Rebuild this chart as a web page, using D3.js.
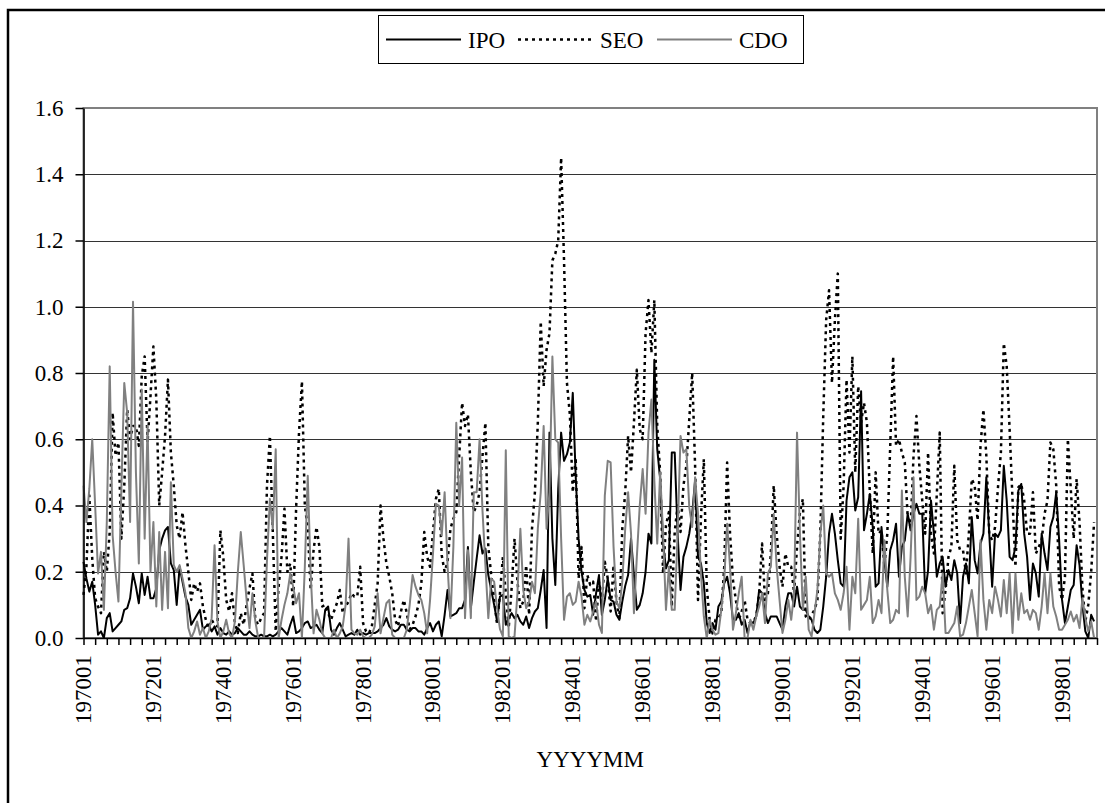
<!DOCTYPE html>
<html>
<head>
<meta charset="utf-8">
<style>
    body { margin: 0; background: #fff; }
    svg text { font-family: "Liberation Serif", "Times New Roman", serif; font-size: 23px; fill: #000; }
</style>
</head>
<body>
<div id="chart"></div>
<script src="https://cdn.jsdelivr.net/npm/d3@7/dist/d3.min.js"></script>
<script>

    // monthly values, one row per year, 1970 .. 1998
    var ipo = [
        .23,.18,.14,.17,.10,.01,.02,.00,.06,.075,.02,.03,
        .04,.05,.085,.09,.12,.195,.155,.105,.195,.13,.185,.12,
        .12,.15,.265,.30,.325,.335,.225,.205,.10,.215,.17,.125,
        .10,.04,.055,.07,.085,.025,.035,.04,.02,.035,.01,.03,
        .015,.01,.02,.01,.015,.03,.02,.01,.01,.02,.01,.005,
        .005,.01,.005,.005,.01,.005,.01,.02,.03,.02,.01,.04,
        .065,.015,.02,.03,.045,.05,.03,.035,.04,.025,.015,.085,
        .095,.025,.01,.03,.045,.025,.005,.01,.015,.01,.025,.01,
        .015,.01,.015,.015,.015,.02,.03,.04,.06,.035,.025,.02,
        .025,.04,.04,.025,.02,.03,.03,.02,.02,.01,.03,.045,
        .02,.04,.05,.005,.07,.145,.065,.07,.075,.09,.09,.115,
        .275,.09,.167,.24,.31,.255,.27,.19,.145,.10,.05,.125,
        .13,.04,.06,.075,.06,.07,.05,.04,.065,.03,.06,.08,
        .09,.145,.205,.03,.62,.30,.16,.45,.62,.535,.555,.59,
        .74,.49,.30,.20,.145,.125,.13,.07,.135,.19,.07,.115,
        .18,.115,.11,.07,.055,.11,.157,.19,.30,.19,.085,.10,
        .135,.20,.315,.285,.84,.57,.48,.285,.21,.235,.56,.56,
        .315,.145,.245,.275,.315,.375,.475,.245,.225,.165,.045,.015,
        .045,.025,.095,.11,.165,.185,.135,.055,.055,.075,.04,.055,
        .015,.05,.045,.065,.145,.135,.075,.045,.065,.065,.065,.045,
        .025,.095,.135,.135,.095,.155,.095,.085,.085,.065,.055,.025,
        .015,.025,.095,.185,.315,.375,.315,.235,.165,.155,.415,.485,
        .50,.385,.425,.745,.325,.375,.435,.335,.155,.165,.335,.235,
        .155,.265,.295,.345,.185,.275,.295,.375,.325,.375,.405,.375,
        .375,.135,.205,.415,.315,.185,.225,.245,.155,.205,.175,.235,
        .195,.045,.185,.225,.165,.365,.235,.195,.285,.315,.485,.315,
        .155,.315,.305,.325,.52,.415,.245,.235,.275,.445,.465,.315,
        .245,.115,.225,.195,.125,.315,.255,.205,.335,.365,.44,.295,
        .115,.045,.095,.145,.16,.28,.22,.10,.02,.00,.07,.05
    ];

    var seo = [
        .13,.215,.43,.24,.12,.095,.075,.26,.20,.32,.68,.55,
        .59,.30,.46,.69,.60,.64,.64,.58,.79,.85,.59,.73,
        .88,.72,.40,.50,.61,.78,.56,.46,.34,.30,.38,.28,
        .20,.115,.165,.14,.165,.095,.055,.03,.055,.04,.035,.325,
        .245,.115,.08,.135,.045,.015,.075,.04,.10,.15,.195,.055,
        .04,.06,.075,.46,.61,.32,.02,.155,.245,.39,.20,.225,
        .095,.39,.62,.775,.40,.33,.145,.265,.335,.275,.095,.10,
        .075,.055,.08,.105,.145,.075,.095,.11,.135,.125,.125,.215,
        .045,.02,.014,.035,.10,.165,.40,.30,.225,.185,.135,.055,
        .035,.08,.115,.075,.025,.04,.065,.10,.165,.32,.245,.215,
        .32,.42,.45,.25,.20,.23,.33,.36,.38,.55,.71,.64,
        .675,.50,.38,.40,.44,.55,.65,.275,.19,.12,.04,.135,
        .245,.135,.03,.15,.30,.17,.09,.11,.22,.07,.33,.44,
        .65,.955,.76,.87,.92,1.14,1.16,1.20,1.45,1.14,.77,.675,
        .44,.545,.18,.275,.09,.19,.16,.17,.05,.17,.11,.23,
        .18,.08,.22,.11,.06,.33,.44,.61,.50,.65,.81,.63,
        .60,.92,1.02,.86,1.02,.64,.50,.195,.34,.38,.095,.32,
        .40,.32,.46,.52,.66,.80,.52,.115,.36,.54,.155,.055,
        .014,.055,.06,.075,.215,.53,.315,.175,.115,.055,.08,.115,
        .055,.045,.05,.065,.135,.285,.115,.135,.255,.46,.315,.215,
        .155,.255,.215,.215,.135,.275,.38,.42,.065,.055,.07,.085,
        .115,.32,.67,.96,1.05,.77,.96,1.10,.30,.46,.78,.56,
        .85,.50,.76,.65,.71,.65,.44,.255,.50,.315,.325,.215,
        .315,.58,.85,.58,.60,.56,.53,.365,.335,.55,.67,.52,
        .415,.315,.56,.315,.255,.435,.62,.075,.145,.245,.275,.52,
        .295,.265,.265,.195,.315,.48,.46,.355,.58,.69,.55,.315,
        .295,.335,.455,.56,.89,.82,.63,.415,.215,.455,.465,.415,
        .315,.315,.44,.255,.275,.295,.375,.415,.59,.57,.46,.155,
        .115,.185,.60,.45,.30,.48,.35,.15,.05,.10,.20,.35
    ];

    var cdo = [
        .46,.35,.45,.60,.40,.195,.26,.085,.35,.82,.31,.20,
        .11,.45,.77,.68,.35,1.015,.50,.225,.75,.30,.64,.20,
        .35,.095,.32,.085,.26,.09,.47,.22,.20,.22,.18,.135,
        .03,.00,.02,.05,.01,.03,.00,.02,.06,.28,.05,.00,
        .02,.055,.014,.00,.05,.20,.32,.22,.115,.03,.135,.05,
        .00,.00,.00,.235,.42,.33,.57,.00,.055,.10,.135,.195,
        .155,.105,.135,.00,.215,.49,.195,.014,.085,.055,.014,.00,
        .00,.00,.025,.00,.014,.035,.10,.30,.025,.014,.01,.025,
        .005,.00,.00,.01,.035,.135,.014,.06,.105,.115,.01,.00,
        .00,.00,.00,.025,.10,.19,.155,.13,.115,.075,.014,.115,
        .255,.405,.40,.31,.44,.22,.06,.275,.65,.40,.545,.06,
        .265,.06,.44,.44,.60,.385,.22,.06,.18,.17,.09,.027,
        .005,.567,.005,.00,.005,.135,.33,.145,.09,.11,.17,.135,
        .33,.44,.64,.33,.44,.85,.60,.59,.30,.055,.125,.135,
        .10,.11,.17,.125,.04,.07,.05,.08,.11,.04,.015,.43,
        .535,.53,.275,.11,.09,.17,.33,.44,.315,.075,.245,.40,
        .51,.375,.62,.72,.475,.285,.50,.315,.085,.215,.085,.085,
        .315,.61,.56,.57,.395,.335,.485,.375,.195,.065,.00,.055,
        .025,.01,.015,.085,.175,.345,.215,.025,.075,.135,.185,.00,
        .00,.055,.025,.065,.095,.135,.045,.195,.215,.375,.215,.115,
        .015,.055,.115,.055,.135,.62,.315,.085,.185,.025,.005,.075,
        .145,.315,.40,.195,.185,.195,.135,.115,.085,.135,.215,.025,
        .185,.135,.36,.085,.10,.115,.185,.045,.065,.115,.075,.295,
        .145,.045,.055,.085,.075,.445,.185,.065,.245,.485,.115,.125,
        .155,.135,.075,.10,.025,.085,.095,.195,.015,.015,.03,.045,
        .095,.005,.01,.045,.095,.145,.075,.005,.295,.115,.025,.115,
        .075,.155,.115,.065,.175,.075,.195,.015,.195,.055,.135,.075,
        .085,.055,.085,.075,.025,.095,.195,.075,.195,.095,.065,.025,
        .025,.04,.055,.08,.05,.07,.03,.12,.06,.02,.05,.00
    ];

    var tickLabels = ["197001", "197201", "197401", "197601", "197801", "198001", "198201",
        "198401", "198601", "198801", "199001", "199201", "199401", "199601", "199801"];
    var yTicks = [0, 0.2, 0.4, 0.6, 0.8, 1.0, 1.2, 1.4, 1.6];
    var seriesNames = ["IPO", "SEO", "CDO"];

    // category labels YYYYMM
    var months = [];
    for (var y = 1970; y <= 1998; y++) {
        for (var m = 1; m <= 12; m++) {
            months.push(y + (m < 10 ? "0" : "") + m);
        }
    }

    var w = 1105;
    var h = 803;
    var plotLeft = 83.5;
    var plotRight = 1097;
    var plotTop = 108;
    var plotBottom = 638;

    var styles = {
        IPO: {color: "#000", width: 2, dash: null},
        SEO: {color: "#000", width: 2.5, dash: "3,4"},
        CDO: {color: "#808080", width: 2, dash: null}
    };

    var xScale = d3.scaleLinear()
        .domain([0, months.length])
        .range([plotLeft, plotRight]);

    var yScale = d3.scaleLinear()
        .domain([0, 1.6])
        .range([plotBottom, plotTop]);

    var svg = d3.select("#chart")
        .append("svg")
        .attr("width", w)
        .attr("height", h);

    // outer chart border (only top and left fall inside the picture)
    svg.append("rect")
        .attr("x", 8)
        .attr("y", 10)
        .attr("width", w + 20)
        .attr("height", h + 20)
        .attr("fill", "none")
        .attr("stroke", "#000")
        .attr("stroke-width", 2.5);

    // gridlines
    svg.append("g")
        .selectAll("line")
        .data(yTicks.filter(function (d) { return d > 0 && d < 1.6; }))
        .enter()
        .append("line")
        .attr("x1", plotLeft)
        .attr("x2", plotRight)
        .attr("y1", function (d) { return Math.round(yScale(d)) + 0.5; })
        .attr("y2", function (d) { return Math.round(yScale(d)) + 0.5; })
        .attr("stroke", "#333")
        .attr("stroke-width", 1);

    // plot area border
    svg.append("rect")
        .attr("x", plotLeft)
        .attr("y", plotTop)
        .attr("width", plotRight - plotLeft)
        .attr("height", plotBottom - plotTop)
        .attr("fill", "none")
        .attr("stroke", "#808080")
        .attr("stroke-width", 2);

    // series
    var line = d3.line()
        .x(function (d, i) { return xScale(i); })
        .y(function (d) { return yScale(d); });

    var seriesData = {IPO: ipo, SEO: seo, CDO: cdo};

    seriesNames.forEach(function (name) {
        svg.append("path")
            .datum(seriesData[name])
            .attr("d", line)
            .attr("fill", "none")
            .attr("stroke", styles[name].color)
            .attr("stroke-width", styles[name].width)
            .attr("stroke-dasharray", styles[name].dash)
            .attr("stroke-linejoin", "round");
    });

    // y axis
    var yAxis = d3.axisLeft(yScale)
        .tickValues(yTicks)
        .tickSize(8)
        .tickSizeOuter(0)
        .tickPadding(12)
        .tickFormat(d3.format(".1f"));

    svg.append("g")
        .attr("class", "axis")
        .attr("transform", "translate(" + plotLeft + ",0)")
        .call(yAxis)
        .call(function (g) {
            g.selectAll("text").style("font-size", "23px").attr("font-family", null);
            g.selectAll("line, path").attr("stroke", "#000").attr("stroke-width", 1.5);
        });

    // x axis, a tick every 4 months
    var xAxis = d3.axisBottom(xScale)
        .tickValues(d3.range(0, months.length + 1, 4))
        .tickSize(7)
        .tickSizeOuter(0)
        .tickFormat("");

    svg.append("g")
        .attr("class", "axis")
        .attr("transform", "translate(0," + plotBottom + ")")
        .call(xAxis)
        .call(function (g) {
            g.selectAll("line, path").attr("stroke", "#000").attr("stroke-width", 1.5);
        });

    svg.append("g")
        .selectAll("text")
        .data(tickLabels)
        .enter()
        .append("text")
        .attr("transform", function (d) {
            return "translate(" + xScale(months.indexOf(d)) + ",655) rotate(-90)";
        })
        .attr("text-anchor", "end")
        .attr("dominant-baseline", "central")
        .text(function (d) { return d; });

    // axis title
    svg.append("text")
        .attr("x", (plotLeft + plotRight) / 2)
        .attr("y", 767)
        .attr("text-anchor", "middle")
        .text("YYYYMM");

    // legend
    var legend = svg.append("g");
    legend.append("rect")
        .attr("x", 378.5)
        .attr("y", 15.5)
        .attr("width", 425)
        .attr("height", 48)
        .attr("fill", "#fff")
        .attr("stroke", "#000")
        .attr("stroke-width", 1);

    var legendX = [386, 518, 657];
    seriesNames.forEach(function (name, i) {
        legend.append("line")
            .attr("x1", legendX[i])
            .attr("x2", legendX[i] + 75)
            .attr("y1", 39.5)
            .attr("y2", 39.5)
            .attr("stroke", styles[name].color)
            .attr("stroke-width", styles[name].width)
            .attr("stroke-dasharray", styles[name].dash);
        legend.append("text")
            .attr("x", legendX[i] + 82)
            .attr("y", 48)
            .text(name);
    });

</script>
</body>
</html>
